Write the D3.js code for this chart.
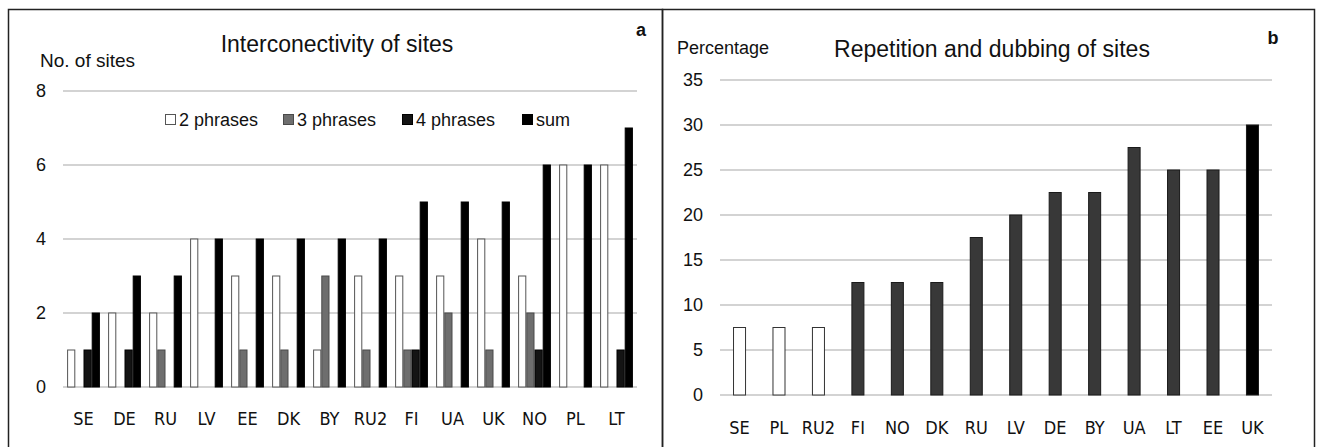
<!DOCTYPE html>
<html>
<head>
<meta charset="utf-8">
<script src="https://cdn.jsdelivr.net/npm/d3@7"></script>
<style>
  body { margin: 0; background: #fff; }
  text { font-family: "Liberation Sans", Arial, sans-serif; fill: #111; }
  .xlab { font-family: "Liberation Sans Narrow", "DejaVu Sans Condensed", sans-serif; }
</style>
</head>
<body>
<script>
// panel a: interconnectivity of sites
var sitesA = ['SE', 'DE', 'RU', 'LV', 'EE', 'DK', 'BY', 'RU2', 'FI', 'UA', 'UK', 'NO', 'PL', 'LT'];
var twoPhrases   = [1, 2, 2, 4, 3, 3, 1, 3, 3, 3, 4, 3, 6, 6];
var threePhrases = [0, 0, 1, 0, 1, 1, 3, 1, 1, 2, 1, 2, 0, 0];
var fourPhrases  = [1, 1, 0, 0, 0, 0, 0, 0, 1, 0, 0, 1, 0, 1];
var sumPhrases   = [2, 3, 3, 4, 4, 4, 4, 4, 5, 5, 5, 6, 6, 7];
var seriesNames = ['2 phrases', '3 phrases', '4 phrases', 'sum'];
var ticksA = [0, 2, 4, 6, 8];

// panel b: repetition and dubbing of sites
var sitesB = ['SE', 'PL', 'RU2', 'FI', 'NO', 'DK', 'RU', 'LV', 'DE', 'BY', 'UA', 'LT', 'EE', 'UK'];
var percentB = [7.5, 7.5, 7.5, 12.5, 12.5, 12.5, 17.5, 20, 22.5, 22.5, 27.5, 25, 25, 30];
var ticksB = [0, 5, 10, 15, 20, 25, 30, 35];

var svg = d3.select('body').append('svg')
  .attr('width', 1320)
  .attr('height', 447);

// frames
svg.append('rect')
  .attr('x', 8.5).attr('y', 9.5)
  .attr('width', 654).attr('height', 450)
  .attr('fill', 'none').attr('stroke', '#222').attr('stroke-width', 1.5);
svg.append('rect')
  .attr('x', 662.5).attr('y', 9.5)
  .attr('width', 652).attr('height', 450)
  .attr('fill', 'none').attr('stroke', '#222').attr('stroke-width', 1.5);

drawA();
drawB();

function grid(g, y, ticks, x0, x1, labelX) {
  g.selectAll('.grid')
    .data(ticks)
    .enter()
    .append('line')
    .attr('x1', x0).attr('x2', x1)
    .attr('y1', function (d) { return y(d); })
    .attr('y2', function (d) { return y(d); })
    .attr('stroke', '#c4c4c4')
    .attr('stroke-width', 1.6);

  g.selectAll('.tick-label')
    .data(ticks)
    .enter()
    .append('text')
    .attr('x', labelX)
    .attr('y', function (d) { return y(d); })
    .attr('dy', '0.36em')
    .attr('text-anchor', 'end')
    .style('font-size', '18px')
    .text(function (d) { return d; });
}

function drawA() {
  var g = svg.append('g');
  var x = d3.scaleBand().domain(sitesA).range([63, 637]).paddingInner(0.2).paddingOuter(0.1);
  var y = d3.scaleLinear().domain([0, 8]).range([387, 91]);
  var sub = d3.scaleBand().domain(seriesNames).range([0, x.bandwidth()]);
  var fills = ['#ffffff', '#6e6e6e', '#141414', '#000000'];
  var strokes = ['#555555', '#4a4a4a', '#000000', '#000000'];

  grid(g, y, ticksA, 63, 637, 46);

  var rows = sitesA.map(function (s, i) {
    return [twoPhrases[i], threePhrases[i], fourPhrases[i], sumPhrases[i]];
  });

  var cluster = g.selectAll('.cluster')
    .data(rows)
    .enter()
    .append('g')
    .attr('transform', function (d, i) { return 'translate(' + x(sitesA[i]) + ',0)'; });

  cluster.selectAll('rect')
    .data(function (d) { return d.map(function (v, k) { return { k: k, v: v }; }); })
    .enter()
    .filter(function (d) { return d.v > 0; })
    .append('rect')
    .attr('x', function (d) { return sub(seriesNames[d.k]) + 0.5; })
    .attr('y', function (d) { return y(d.v); })
    .attr('width', sub.bandwidth() - 1)
    .attr('height', function (d) { return y(0) - y(d.v); })
    .attr('fill', function (d) { return fills[d.k]; })
    .attr('stroke', function (d) { return strokes[d.k]; })
    .attr('stroke-width', 1);

  g.selectAll('.xlab')
    .data(sitesA)
    .enter()
    .append('text')
    .attr('class', 'xlab')
    .attr('x', function (d) { return x(d) + x.bandwidth() / 2; })
    .attr('y', 425)
    .attr('text-anchor', 'middle')
    .style('font-size', '18px')
    .text(function (d) { return d; });

  // legend
  var legX = [165, 283, 402, 522];
  var leg = g.selectAll('.leg')
    .data(seriesNames)
    .enter()
    .append('g')
    .attr('transform', function (d, i) { return 'translate(' + legX[i] + ',120)'; });
  leg.append('rect')
    .attr('x', 0.5).attr('y', -5.5)
    .attr('width', 10).attr('height', 10)
    .attr('fill', function (d, i) { return fills[i]; })
    .attr('stroke', function (d, i) { return strokes[i]; });
  leg.append('text')
    .attr('x', 14)
    .attr('dy', '0.36em')
    .style('font-size', '18px')
    .text(function (d) { return d; });

  g.append('text')
    .attr('x', 337).attr('y', 52)
    .attr('text-anchor', 'middle')
    .style('font-size', '23px')
    .text('Interconectivity of sites');
  g.append('text')
    .attr('x', 40).attr('y', 67)
    .style('font-size', '19px')
    .text('No. of sites');
  g.append('text')
    .attr('x', 641).attr('y', 36)
    .attr('text-anchor', 'middle')
    .style('font-size', '18px')
    .style('font-weight', 'bold')
    .text('a');
}

function drawB() {
  var g = svg.append('g');
  var x = d3.scaleBand().domain(sitesB).range([720, 1272]).paddingInner(0.67).paddingOuter(0.33);
  var y = d3.scaleLinear().domain([0, 35]).range([395, 80]);
  var top = d3.max(percentB);

  grid(g, y, ticksB, 720, 1272, 703);

  g.selectAll('.bar')
    .data(percentB)
    .enter()
    .append('rect')
    .attr('x', function (d, i) { return x(sitesB[i]) + 0.5; })
    .attr('y', function (d) { return y(d); })
    .attr('width', x.bandwidth() - 1)
    .attr('height', function (d) { return y(0) - y(d); })
    .attr('fill', function (d) { return d < 10 ? '#ffffff' : (d === top ? '#000000' : '#383838'); })
    .attr('stroke', function (d) { return d < 10 ? '#333' : '#1a1a1a'; })
    .attr('stroke-width', 1);

  g.selectAll('.xlab')
    .data(sitesB)
    .enter()
    .append('text')
    .attr('class', 'xlab')
    .attr('x', function (d) { return x(d) + x.bandwidth() / 2; })
    .attr('y', 434)
    .attr('text-anchor', 'middle')
    .style('font-size', '18px')
    .text(function (d) { return d; });

  g.append('text')
    .attr('x', 992).attr('y', 57)
    .attr('text-anchor', 'middle')
    .style('font-size', '23px')
    .text('Repetition and dubbing of sites');
  g.append('text')
    .attr('x', 677).attr('y', 54)
    .style('font-size', '18px')
    .text('Percentage');
  g.append('text')
    .attr('x', 1273).attr('y', 44)
    .attr('text-anchor', 'middle')
    .style('font-size', '18px')
    .style('font-weight', 'bold')
    .text('b');
}
</script>
</body>
</html>
